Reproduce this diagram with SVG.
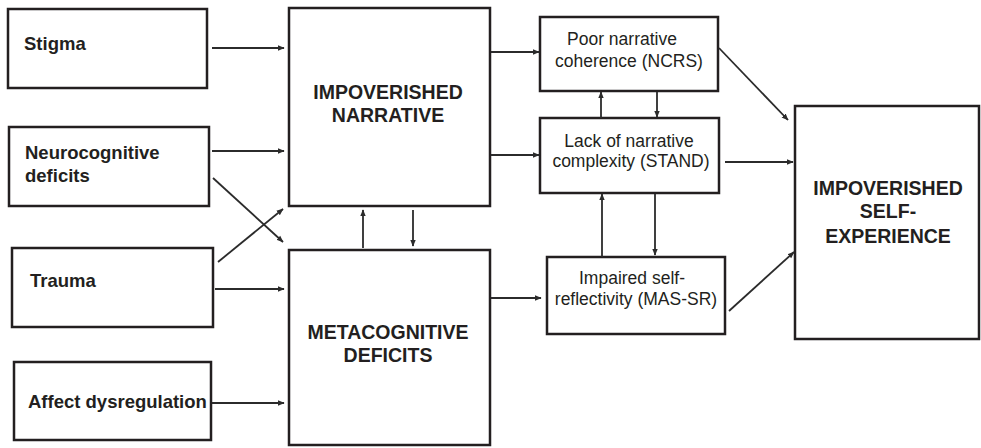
<svg xmlns="http://www.w3.org/2000/svg" width="981" height="448" viewBox="0 0 981 448">
<style>
.box{fill:#fff;stroke:#231f20;stroke-width:2.5}
.lb{font-family:"Liberation Sans",Arial,sans-serif;font-weight:bold;font-size:18.5px;fill:#231f20}
.big{font-family:"Liberation Sans",Arial,sans-serif;font-weight:bold;font-size:19.5px;fill:#231f20;text-anchor:middle}
.sm{font-family:"Liberation Sans",Arial,sans-serif;font-size:17.5px;fill:#231f20;text-anchor:middle}
.c{fill:none;stroke:#2b2b2b;stroke-width:1.8;marker-end:url(#ah)}
</style>
<defs>
<marker id="ah" viewBox="0 0 10 10" refX="9" refY="5" markerWidth="7" markerHeight="7" markerUnits="userSpaceOnUse" orient="auto">
<path d="M0,1 L10,5 L0,9 Z" fill="#2b2b2b"/>
</marker>
</defs>
<rect width="981" height="448" fill="#fff"/>
<g id="stigma"><rect class="box" x="8" y="9" width="199" height="79"/><text class="lb" x="24" y="50">Stigma</text></g>
<g id="neuro"><rect class="box" x="9" y="127" width="200" height="79"/><text class="lb" x="25" y="159">Neurocognitive</text><text class="lb" x="25" y="182">deficits</text></g>
<g id="trauma"><rect class="box" x="12" y="248" width="201" height="79"/><text class="lb" x="30" y="287">Trauma</text></g>
<g id="affect"><rect class="box" x="14" y="362" width="197" height="78"/><text class="lb" x="28" y="408">Affect dysregulation</text></g>
<g id="narrative"><rect class="box" x="289" y="8" width="201" height="198"/><text class="big" x="388" y="99">IMPOVERISHED</text><text class="big" x="388" y="122">NARRATIVE</text></g>
<g id="metacog"><rect class="box" x="289" y="250" width="201" height="195"/><text class="big" x="388" y="339">METACOGNITIVE</text><text class="big" x="388" y="362">DEFICITS</text></g>
<g id="poor"><rect class="box" x="540" y="17" width="178" height="74"/><text class="sm" x="622" y="45">Poor narrative</text><text class="sm" x="629" y="67">coherence (NCRS)</text></g>
<g id="lack"><rect class="box" x="540" y="118" width="179" height="75"/><text class="sm" x="629" y="147">Lack of narrative</text><text class="sm" x="631" y="167">complexity (STAND)</text></g>
<g id="impaired"><rect class="box" x="547" y="257" width="178" height="77"/><text class="sm" x="632" y="284">Impaired self-</text><text class="sm" x="636" y="305">reflectivity (MAS-SR)</text></g>
<g id="self"><rect class="box" x="795" y="106" width="184" height="233"/><text class="big" x="888" y="195">IMPOVERISHED</text><text class="big" x="888" y="218">SELF-</text><text class="big" x="888" y="243">EXPERIENCE</text></g>
<g id="connectors">
<line class="c" x1="212" y1="48" x2="284" y2="48"/>
<line class="c" x1="212" y1="151" x2="284" y2="151"/>
<line class="c" x1="213" y1="178" x2="283" y2="242"/>
<line class="c" x1="218" y1="262" x2="283" y2="209"/>
<line class="c" x1="215" y1="289" x2="284" y2="289"/>
<line class="c" x1="212" y1="403" x2="284" y2="403"/>
<line class="c" x1="363" y1="248" x2="363" y2="210"/>
<line class="c" x1="413" y1="210" x2="413" y2="246"/>
<line class="c" x1="491" y1="52" x2="539" y2="52"/>
<line class="c" x1="491" y1="155" x2="539" y2="155"/>
<line class="c" x1="491" y1="298" x2="541" y2="298"/>
<line class="c" x1="601" y1="118" x2="601" y2="92"/>
<line class="c" x1="657" y1="92" x2="657" y2="117"/>
<line class="c" x1="602" y1="257" x2="602" y2="194"/>
<line class="c" x1="655" y1="194" x2="655" y2="255"/>
<line class="c" x1="719" y1="48" x2="788" y2="120"/>
<line class="c" x1="725" y1="162" x2="793" y2="162"/>
<line class="c" x1="729" y1="311" x2="794" y2="252"/>
</g>
</svg>
